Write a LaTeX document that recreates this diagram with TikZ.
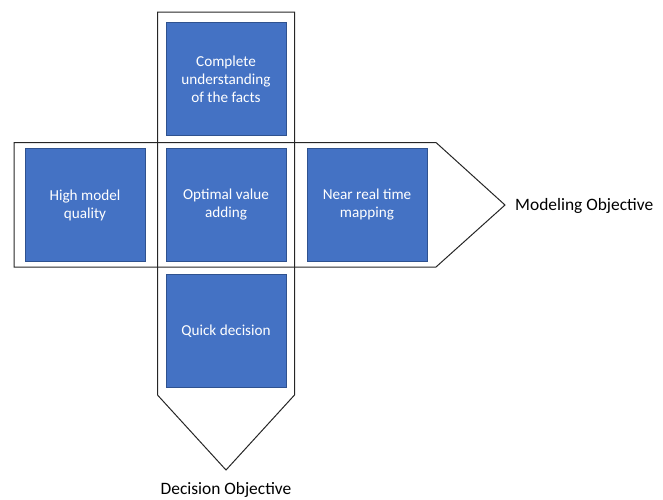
\documentclass[tikz,border=0pt]{standalone}
\usepackage{fontspec}
\setmainfont{Carlito}
\definecolor{boxblue}{HTML}{4472C4}
\definecolor{boxedge}{HTML}{2F528F}
\begin{document}
\begin{tikzpicture}[x=1pt,y=-1pt,
  outline/.style={draw=black!85, line width=1pt},
  bluebox/.style={fill=boxblue, draw=boxedge, line width=0.8pt, text=white,
    minimum width=120pt, minimum height=113pt, inner sep=0pt, align=center,
    font=\fontsize{15.2}{18}\selectfont},
  lbl/.style={font=\fontsize{17.4}{20}\selectfont, inner sep=0pt}]
\useasboundingbox (0,0) rectangle (663,499);
% outlines
\draw[outline] (157.5,12) -- (294.5,12) -- (294.5,395) -- (226,470) -- (157.5,395) -- cycle;
\draw[outline] (14,142.5) -- (436,142.5) -- (505,205) -- (436,267) -- (14,267) -- cycle;
% boxes
\node[bluebox] (top) at (226,79) {Complete\\understanding\\of the facts};
\node[bluebox] (left) at (85,205) {High model\\quality};
\node[bluebox] (center) at (226,205) {Optimal value\\adding};
\node[bluebox] (right) at (367,205) {Near real time\\mapping};
\node[bluebox] (bottom) at (226,331) {Quick decision};
% labels
\node[lbl, anchor=west] (modobj) at (515,206) {Modeling Objective};
\node[lbl] (decobj) at (226,490) {Decision Objective};
\end{tikzpicture}
\end{document}
